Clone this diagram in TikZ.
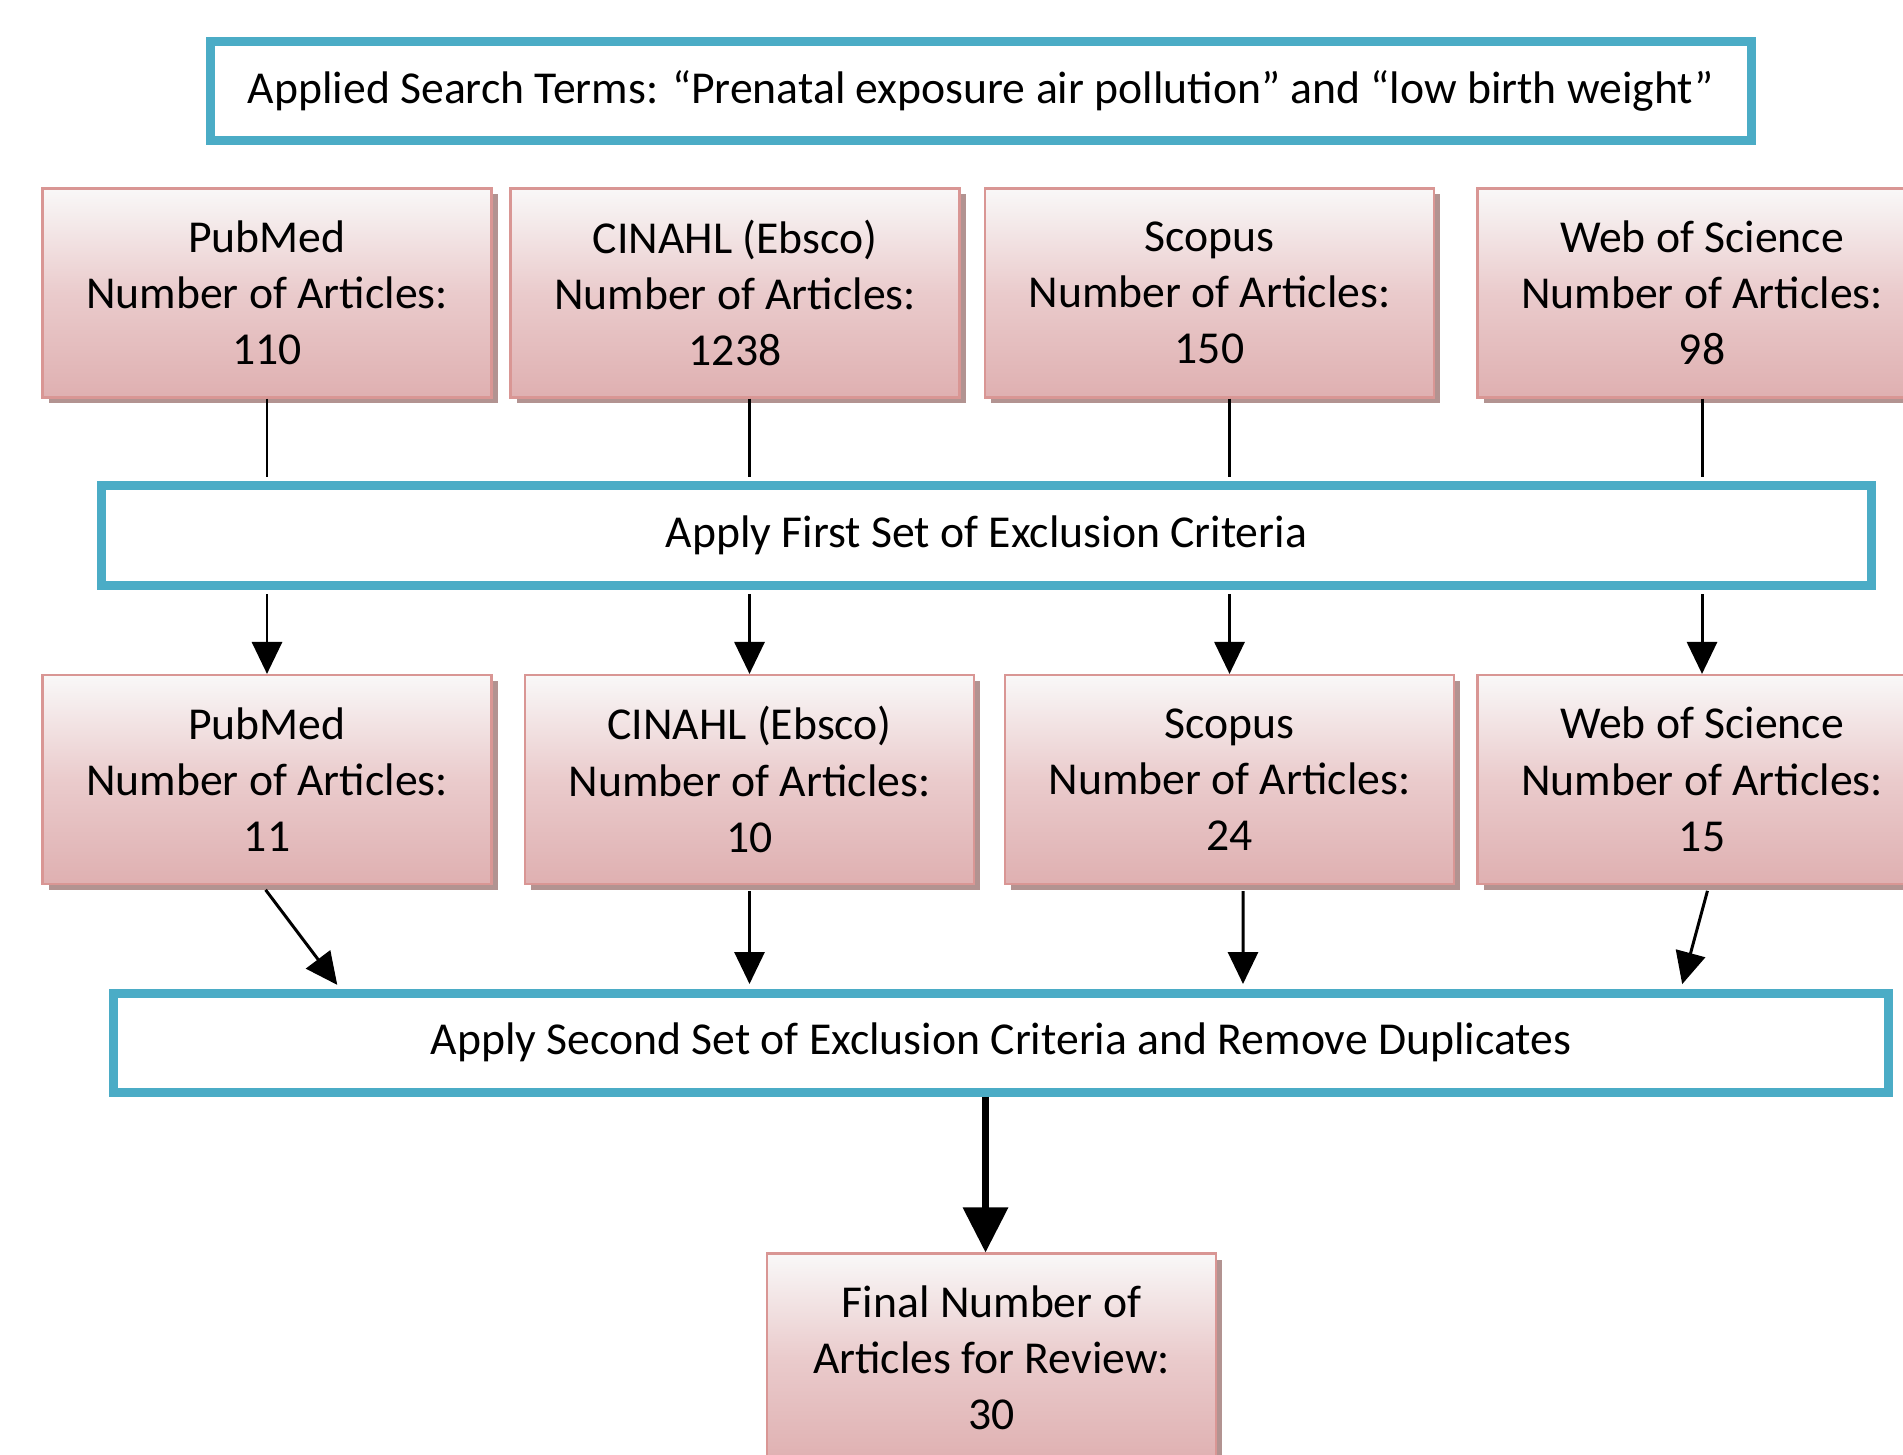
\documentclass[tikz,border=0pt]{standalone}
\usepackage{fontspec}
\setmainfont{Carlito}
\usetikzlibrary{arrows.meta,shadows}
\definecolor{critblue}{HTML}{4BACC6}
\definecolor{dbedge}{HTML}{D99694}
\definecolor{dbtop}{HTML}{F9F8F8}
\definecolor{dbmid}{HTML}{EACBCC}
\definecolor{dbbot}{HTML}{DFB0B1}
\definecolor{dbshadow}{HTML}{B29391}

\begin{document}
\begin{tikzpicture}[
    crit/.style={draw=critblue, line width=0.09cm, fill=white, minimum height=0.99cm,
        font=\fontsize{13}{16}\selectfont},
    db/.style={draw=dbedge, line width=0.6pt, top color=dbtop, bottom color=dbbot, middle color=dbmid,
        minimum width=4.49cm, minimum height=2.09cm, align=center, font=\fontsize{13}{16}\selectfont,
        drop shadow={shadow xshift=0.06cm, shadow yshift=-0.06cm, fill=dbshadow, opacity=1}},
    link/.style={line width=0.85pt, shorten >=0.045cm},
    flow/.style={line width=0.85pt, -{Triangle[length=0.32cm, width=0.3cm]}},
    bigflow/.style={line width=0.065cm, -{Triangle[length=0.45cm, width=0.44cm]}}
]
    \useasboundingbox (0,0) rectangle (19.03,14.54);
    \clip (0,0) rectangle (19.03,14.54);

    \node[crit, minimum width=15.41cm] (terms) at (9.81, 13.63) {Applied Search Terms: “Prenatal exposure air pollution” and “low birth weight”};

    \node[db] (pub1) at (2.67, 11.61) {PubMed\\Number of Articles:\\110};
    \node[db] (cin1) at (7.35, 11.61) {CINAHL (Ebsco)\\Number of Articles:\\1238};
    \node[db] (sco1) at (12.095, 11.61) {Scopus\\Number of Articles:\\150};
    \node[db] (wos1) at (17.02, 11.61) {Web of Science\\Number of Articles:\\98};

    \node[crit, minimum width=17.70cm] (excl1) at (9.865, 9.185) {Apply First Set of Exclusion Criteria};

    \node[db] (pub2) at (2.67, 6.745) {PubMed\\Number of Articles:\\11};
    \node[db] (cin2) at (7.495, 6.745) {CINAHL (Ebsco)\\Number of Articles:\\10};
    \node[db] (sco2) at (12.295, 6.745) {Scopus\\Number of Articles:\\24};
    \node[db] (wos2) at (17.02, 6.745) {Web of Science\\Number of Articles:\\15};

    \node[crit, minimum width=17.75cm] (excl2) at (10.01, 4.115) {Apply Second Set of Exclusion Criteria and Remove Duplicates};

    \node[db] (final) at (9.915, 0.96) {Final Number of\\Articles for Review:\\30};

    % databases into first exclusion
    \draw[link] (pub2.north |- pub1.south) -- (pub2.north |- excl1.north);
    \draw[link] (cin2.north |- cin1.south) -- (cin2.north |- excl1.north);
    \draw[link] (sco2.north |- sco1.south) -- (sco2.north |- excl1.north);
    \draw[link] (wos2.north |- wos1.south) -- (wos2.north |- excl1.north);

    % first exclusion to remaining articles
    \draw[flow, shorten <=0.045cm] (pub2.north |- excl1.south) -- (pub2.north);
    \draw[flow, shorten <=0.045cm] (cin2.north |- excl1.south) -- (cin2.north);
    \draw[flow, shorten <=0.045cm] (sco2.north |- excl1.south) -- (sco2.north);
    \draw[flow, shorten <=0.045cm] (wos2.north |- excl1.south) -- (wos2.north);

    % remaining articles into second exclusion
    \draw[flow, shorten <=0.06cm, shorten >=0.045cm] ([xshift=-0.05cm]pub2.south) -- ([xshift=-6.61cm]excl2.north);
    \draw[flow, shorten <=0.06cm, shorten >=0.045cm] (cin2.south) -- (cin2.south |- excl2.north);
    \draw[flow, shorten <=0.06cm, shorten >=0.045cm] ([xshift=0.135cm]sco2.south) -- ([xshift=2.42cm]excl2.north);
    \draw[flow, shorten <=0.06cm, shorten >=0.045cm] ([xshift=0.07cm]wos2.south) -- ([xshift=6.80cm]excl2.north);

    \draw[bigflow] ([xshift=-0.06cm]final.north |- excl2.south) -- ([xshift=-0.06cm]final.north);

\end{tikzpicture}
\end{document}
